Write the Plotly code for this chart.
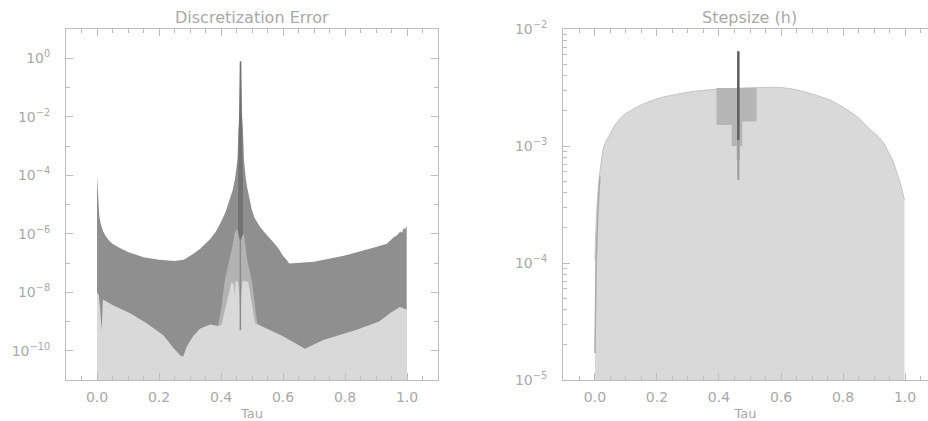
import plotly.graph_objects as go

# ---------------- data (log10 values) ----------------
# Left panel: Discretization Error
err_upper_tau = [0.0, 0.003, 0.0075, 0.013, 0.02, 0.027, 0.038, 0.05, 0.075, 0.1, 0.15, 0.2, 0.25,
                 0.28, 0.3, 0.316, 0.333, 0.35, 0.366, 0.383, 0.4, 0.415, 0.429, 0.438, 0.445, 0.45,
                 0.453, 0.456, 0.459, 0.468, 0.471, 0.474, 0.477, 0.48, 0.485, 0.49, 0.499, 0.508,
                 0.525, 0.54, 0.555, 0.568, 0.585, 0.6, 0.612, 0.62, 0.7, 0.8, 0.9, 0.935, 0.957,
                 0.968, 0.978, 0.984, 0.989, 0.994, 0.999]
err_upper_log = [-4.0, -4.8, -5.4, -5.7, -5.92, -6.06, -6.22, -6.34, -6.5, -6.62, -6.8, -6.89, -6.93,
                 -6.89, -6.76, -6.65, -6.51, -6.35, -6.17, -5.93, -5.6, -5.25, -4.81, -4.5, -4.13, -3.8,
                 -3.46, -2.5, -2.0, -2.0, -2.5, -3.46, -3.85, -4.13, -4.45, -4.75, -5.15, -5.45,
                 -5.75, -5.95, -6.12, -6.28, -6.5, -6.75, -6.9, -7.02, -6.96, -6.74, -6.45, -6.34, -6.12,
                 -6.05, -5.92, -5.97, -5.8, -5.85, -5.72]

err_core_tau = [0.455, 0.458, 0.4605, 0.4655, 0.468, 0.471]
err_core_log = [-4.6, -2.6, -0.1, -0.1, -2.6, -4.6]

err_mid_tau = [0.391, 0.40, 0.413, 0.435, 0.445, 0.452, 0.458, 0.4625, 0.467, 0.474, 0.484, 0.5, 0.516, 0.521]
err_mid_log = [-9.15, -8.6, -7.54, -6.52, -5.94, -5.84, -6.1, -6.3, -6.1, -6.0, -6.86, -7.64, -9.0, -9.15]

err_lower_tau = [0.0, 0.006, 0.011, 0.015, 0.019, 0.053, 0.107, 0.16, 0.214, 0.246, 0.268, 0.278,
                 0.29, 0.31, 0.332, 0.365, 0.391, 0.402, 0.434, 0.44, 0.445, 0.447, 0.455, 0.46,
                 0.4625, 0.465, 0.47, 0.488, 0.51, 0.52, 0.6, 0.671, 0.73, 0.84, 0.91, 0.945, 0.977,
                 0.994, 1.0]
err_lower_log = [-8.0, -8.1, -8.7, -9.3, -8.25, -8.45, -8.72, -9.06, -9.47, -9.9, -10.15, -10.2,
                 -9.85, -9.5, -9.25, -9.1, -9.15, -9.1, -7.65, -7.7, -8.1, -7.6, -7.65, -8.2,
                 -9.3, -8.2, -7.6, -7.65, -9.07, -9.1, -9.5, -9.93, -9.63, -9.27, -9.0, -8.72, -8.5,
                 -8.57, -8.6]

err_line_tau = [0.4625, 0.4625]
err_line_log = [-9.3, -6.2]

# Right panel: Stepsize (h)
h_tau = [0.0, 0.003, 0.006, 0.011, 0.018, 0.029, 0.04, 0.05, 0.07, 0.095, 0.12, 0.148, 0.185,
         0.223, 0.28, 0.33, 0.39, 0.437, 0.523, 0.598, 0.65, 0.706, 0.76, 0.813, 0.85, 0.888,
         0.91, 0.93, 0.942, 0.96, 0.974, 0.988, 0.998]
h_log = [-3.97, -3.72, -3.55, -3.35, -3.18, -3.0, -2.94, -2.89, -2.8, -2.73, -2.69, -2.65, -2.61,
         -2.58, -2.55, -2.53, -2.515, -2.51, -2.50, -2.50, -2.52, -2.56, -2.61, -2.69, -2.76, -2.86,
         -2.91, -2.97, -3.03, -3.12, -3.23, -3.35, -3.46]

h_edge_tau = [0.0, 0.004, 0.009, 0.016]
h_edge_log = [-4.77, -4.0, -3.6, -3.26]

h_step_edges = [0.392, 0.441, 0.457, 0.468, 0.475, 0.521]
h_step_low_log = [-2.82, -3.0, -3.12, -3.0, -2.79]
h_step_top_log = -2.505

h_spike_tau = 0.4624
h_spike_dark_log = [-2.19, -2.95]
h_spike_light_log = [-2.95, -3.29]

x_tickvals = [0.0, 0.2, 0.4, 0.6, 0.8, 1.0]
x_ticktext = ["0.0", "0.2", "0.4", "0.6", "0.8", "1.0"]
left_y_exps = [0, -2, -4, -6, -8, -10]
right_y_exps = [-2, -3, -4, -5]

# ---------------- styling ----------------
GRID = "#bdbdbd"
TXT = "#a9a9a9"
DARK = "#8f8f8f"
CORE = "#727272"
MID = "#b3b3b3"
LIGHT = "#d9d9d9"
FONT = "DejaVu Sans"


def p10(vals):
    return [10 ** v for v in vals]


fig = go.Figure()

# left panel layers
fig.add_trace(go.Scatter(x=err_upper_tau, y=p10(err_upper_log), mode="lines", fill="tozeroy",
                         fillcolor=DARK, line=dict(width=0, color=DARK), xaxis="x", yaxis="y",
                         hoverinfo="skip", showlegend=False))
fig.add_trace(go.Scatter(x=err_core_tau, y=p10(err_core_log), mode="lines", fill="tozeroy",
                         fillcolor=CORE, line=dict(width=0, color=CORE), xaxis="x", yaxis="y",
                         hoverinfo="skip", showlegend=False))
fig.add_trace(go.Scatter(x=err_mid_tau, y=p10(err_mid_log), mode="lines", fill="tozeroy",
                         fillcolor=MID, line=dict(width=0, color=MID), xaxis="x", yaxis="y",
                         hoverinfo="skip", showlegend=False))
fig.add_trace(go.Scatter(x=err_lower_tau, y=p10(err_lower_log), mode="lines", fill="tozeroy",
                         fillcolor=LIGHT, line=dict(width=0, color=LIGHT), xaxis="x", yaxis="y",
                         hoverinfo="skip", showlegend=False))
fig.add_trace(go.Scatter(x=err_line_tau, y=p10(err_line_log), mode="lines",
                         line=dict(width=1.5, color="#8a8a8a"), xaxis="x", yaxis="y",
                         hoverinfo="skip", showlegend=False))

# right panel layers
fig.add_trace(go.Scatter(x=h_tau, y=p10(h_log), mode="lines", fill="tozeroy", line_shape="spline",
                         fillcolor=LIGHT, line=dict(width=1, color="#c4c4c4", smoothing=0.6),
                         xaxis="x2", yaxis="y2", hoverinfo="skip", showlegend=False))
fig.add_trace(go.Scatter(x=h_edge_tau, y=p10(h_edge_log), mode="lines",
                         line=dict(width=1.5, color="#ababab"), xaxis="x2", yaxis="y2",
                         hoverinfo="skip", showlegend=False))

# step polygon built from edges / lows
poly_x, poly_y = [], []
for i, lo in enumerate(h_step_low_log):
    poly_x += [h_step_edges[i], h_step_edges[i + 1]]
    poly_y += [10 ** lo, 10 ** lo]
poly_x += [h_step_edges[-1], h_step_edges[0], h_step_edges[0]]
poly_y += [10 ** h_step_top_log, 10 ** h_step_top_log, 10 ** h_step_low_log[0]]
fig.add_trace(go.Scatter(x=poly_x, y=poly_y, mode="lines", fill="toself", fillcolor="#b5b5b5",
                         line=dict(width=0, color="#b5b5b5"), xaxis="x2", yaxis="y2",
                         hoverinfo="skip", showlegend=False))
fig.add_trace(go.Scatter(x=[h_spike_tau, h_spike_tau], y=p10(h_spike_light_log), mode="lines",
                         line=dict(width=2, color="#9a9a9a"), xaxis="x2", yaxis="y2",
                         hoverinfo="skip", showlegend=False))
fig.add_trace(go.Scatter(x=[h_spike_tau, h_spike_tau], y=p10(h_spike_dark_log), mode="lines",
                         line=dict(width=2.5, color="#5e5e5e"), xaxis="x2", yaxis="y2",
                         hoverinfo="skip", showlegend=False))

W, H = 928, 421
L1, R1 = 66, 438
L2 = 563
tickfont = dict(family=FONT, size=14, color=TXT)


def xaxis_cfg(domain, rng):
    return dict(domain=domain, range=rng, tickvals=x_tickvals, ticktext=x_ticktext,
                ticks="inside", ticklen=7, tickcolor=GRID, tickwidth=1,
                minor=dict(dtick=0.05, tick0=0.0, ticks="inside", ticklen=4, tickcolor=GRID),
                showline=True, linecolor=GRID, linewidth=1, mirror="ticks",
                showgrid=False, zeroline=False, tickfont=tickfont, automargin=False,
                ticklabelstandoff=4,
                title=dict(text="Tau", font=dict(family=FONT, size=13, color=TXT), standoff=6))


fig.update_layout(
    width=W, height=H, paper_bgcolor="white", plot_bgcolor="white",
    margin=dict(l=0, r=0, t=29, b=41, autoexpand=False),
    xaxis=xaxis_cfg([L1 / W, R1 / W], [-0.1, 1.1]),
    yaxis=dict(type="log", range=[-11, 1], domain=[0, 1], anchor="x",
               tickvals=[10 ** e for e in left_y_exps],
               ticktext=["10<sup>%s</sup>" % str(e).replace("-", "\u2212") for e in left_y_exps],
               ticks="inside", ticklen=7, tickcolor=GRID,
               minor=dict(tickvals=[10 ** e for e in [1, -1, -3, -5, -7, -9, -11]],
                          ticks="inside", ticklen=4, tickcolor=GRID),
               showline=True, linecolor=GRID, linewidth=1, mirror="ticks", automargin=False,
               showgrid=False, zeroline=False, tickfont=tickfont, ticklabelstandoff=12),
    xaxis2=xaxis_cfg([L2 / W, 1.0], [-0.103, 1.074]),
    yaxis2=dict(type="log", range=[-5, -2], domain=[0, 1], anchor="x2",
                tickvals=[10 ** e for e in right_y_exps],
                ticktext=["10<sup>%s</sup>" % str(e).replace("-", "\u2212") for e in right_y_exps],
                ticks="inside", ticklen=7, tickcolor=GRID,
                minor=dict(dtick="D1", ticks="inside", ticklen=4, tickcolor=GRID),
                showline=True, linecolor=GRID, linewidth=1, mirror=False, automargin=False,
                showgrid=False, zeroline=False, tickfont=tickfont, ticklabelstandoff=12),
    annotations=[
        dict(text="Discretization Error", x=(L1 + R1) / 2 / W, y=1, xref="paper", yref="paper",
             xanchor="center", yanchor="bottom", yshift=0, showarrow=False,
             font=dict(family=FONT, size=16, color=TXT)),
        dict(text="Stepsize (h)", x=749 / W, y=1, xref="paper", yref="paper",
             xanchor="center", yanchor="bottom", yshift=0, showarrow=False,
             font=dict(family=FONT, size=16, color=TXT)),
    ],
)

fig.write_html("out.html", config={"displayModeBar": False},
               post_script="document.body.style.margin='0px';")
